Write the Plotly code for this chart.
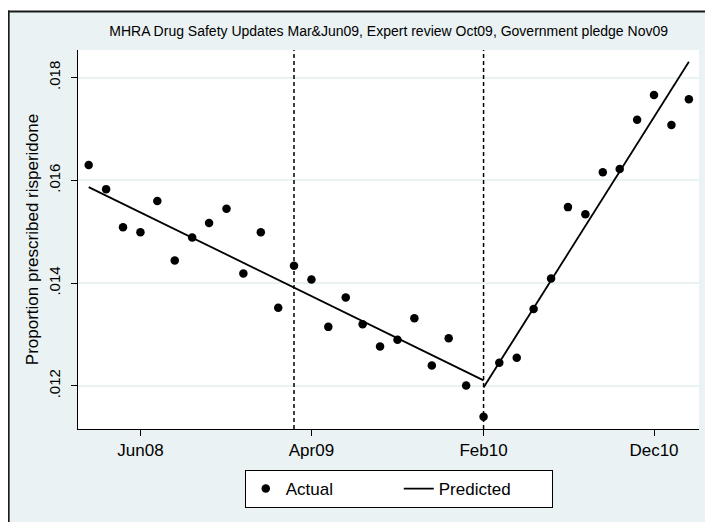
import plotly.graph_objects as go

# ---- data ----
months = ["2008-03-01", "2008-04-01", "2008-05-01", "2008-06-01", "2008-07-01", "2008-08-01",
          "2008-09-01", "2008-10-01", "2008-11-01", "2008-12-01", "2009-01-01", "2009-02-01",
          "2009-03-01", "2009-04-01", "2009-05-01", "2009-06-01", "2009-07-01", "2009-08-01",
          "2009-09-01", "2009-10-01", "2009-11-01", "2009-12-01", "2010-01-01", "2010-02-01",
          "2010-03-01", "2010-04-01", "2010-05-01", "2010-06-01", "2010-07-01", "2010-08-01",
          "2010-09-01", "2010-10-01", "2010-11-01", "2010-12-01", "2011-01-01", "2011-02-01"]
actual = [0.01630, 0.01583, 0.01509, 0.01499, 0.01560, 0.01444,
          0.01489, 0.01517, 0.01545, 0.01419, 0.01499, 0.01352,
          0.01434, 0.01407, 0.01315, 0.01372, 0.01320, 0.01277,
          0.01290, 0.01332, 0.01240, 0.01293, 0.01201, 0.01140,
          0.01245, 0.01255, 0.01350, 0.01409, 0.01548, 0.01534,
          0.01616, 0.01622, 0.01718, 0.01766, 0.01708, 0.01758]

pred_seg1_dates = ["2008-03-01", "2010-02-01"]
pred_seg1_values = [0.01587, 0.01211]
pred_seg2_dates = ["2010-02-01", "2011-02-01"]
pred_seg2_values = [0.01197, 0.01831]

intervention_dates = ["2009-03-01", "2010-02-01"]

x_tick_vals = ["2008-06-01", "2009-04-01", "2010-02-01", "2010-12-01"]
x_tick_text = ["Jun08", "Apr09", "Feb10", "Dec10"]
y_tick_vals = [0.012, 0.014, 0.016, 0.018]
y_tick_text = [".012", ".014", ".016", ".018"]

title_text = "MHRA Drug Safety Updates Mar&Jun09, Expert review Oct09, Government pledge Nov09"
y_title = "Proportion prescribed risperidone"

# ---- layout geometry (page offset by the 8px default body margin) ----
OFF = 8
W, H = 713, 522                         # slightly larger than the visible area; overflow is cropped
L, T = 78.3 - OFF, 50 - OFF
PR, PB = 699 - OFF, 429 - OFF           # plot right / bottom in figure px
R, B = W - PR, H - PB
pw, ph = PR - L, PB - T


def fx(px_page):
    return (px_page - OFF - L) / pw


def fy(py_page):
    return (PB - (py_page - OFF)) / ph


FONT = "Liberation Sans, Arial, sans-serif"
BG = "#EAF2F3"

fig = go.Figure()
fig.add_trace(go.Scatter(
    x=months, y=actual, mode="markers", name="Actual",
    marker=dict(color="black", size=8.5, line=dict(width=0)),
))
fig.add_trace(go.Scatter(
    x=pred_seg1_dates + [None] + pred_seg2_dates,
    y=pred_seg1_values + [None] + pred_seg2_values,
    mode="lines", name="Predicted", connectgaps=False,
    line=dict(color="black", width=1.8),
))

shapes = []
for d in intervention_dates:
    shapes.append(dict(type="line", xref="x", yref="paper", x0=d, x1=d, y0=0, y1=1,
                       line=dict(color="black", width=1.5, dash="4px,3px")))
# outer white margin + dark frame (top and left edges)
shapes.append(dict(type="rect", xref="paper", yref="paper", x0=fx(0), x1=fx(740),
                   y0=fy(11), y1=fy(0), fillcolor="white", line=dict(width=0)))
shapes.append(dict(type="line", xref="paper", yref="paper", x0=fx(8), x1=fx(740),
                   y0=fy(11.5), y1=fy(11.5), line=dict(color="#1a1a1a", width=2)))
shapes.append(dict(type="line", xref="paper", yref="paper", x0=fx(9), x1=fx(9),
                   y0=fy(545), y1=fy(10.5), line=dict(color="#1a1a1a", width=2)))

fig.update_layout(
    width=W, height=H,
    margin=dict(l=L, r=R, t=T, b=B, pad=0, autoexpand=False),
    paper_bgcolor=BG, plot_bgcolor="white",
    font=dict(family=FONT, color="black", size=17),
    title=dict(text=title_text, x=(L + pw / 2) / W, xanchor="center",
               y=1 - (31 - OFF) / H, yanchor="middle", font=dict(size=14, color="black")),
    showlegend=True,
    legend=dict(orientation="h", x=fx(245), xanchor="left", y=fy(470), yanchor="top",
                bgcolor="white", bordercolor="black", borderwidth=1,
                font=dict(size=17), itemwidth=30, entrywidth=108, tracegroupgap=0),
    shapes=shapes,
    xaxis=dict(
        type="date", range=["2008-02-11", "2011-02-19"], automargin=False,
        tickmode="array", tickvals=x_tick_vals, ticktext=x_tick_text,
        ticks="outside", ticklen=6, tickwidth=1, tickcolor="black",
        showline=True, linecolor="black", linewidth=1, mirror=False,
        showgrid=False, zeroline=False, tickfont=dict(size=17),
    ),
    yaxis=dict(
        range=[0.011163, 0.018537], automargin=False,
        tickmode="array", tickvals=y_tick_vals, ticktext=y_tick_text,
        tickangle=-90, ticklabelstandoff=5,
        ticks="outside", ticklen=6, tickwidth=1, tickcolor="black",
        showline=True, linecolor="black", linewidth=1,
        showgrid=True, gridcolor=BG, gridwidth=1.5, zeroline=False,
        tickfont=dict(size=15),
        title=dict(text=y_title, font=dict(size=17), standoff=3),
    ),
)

fig.write_html("out.html")
